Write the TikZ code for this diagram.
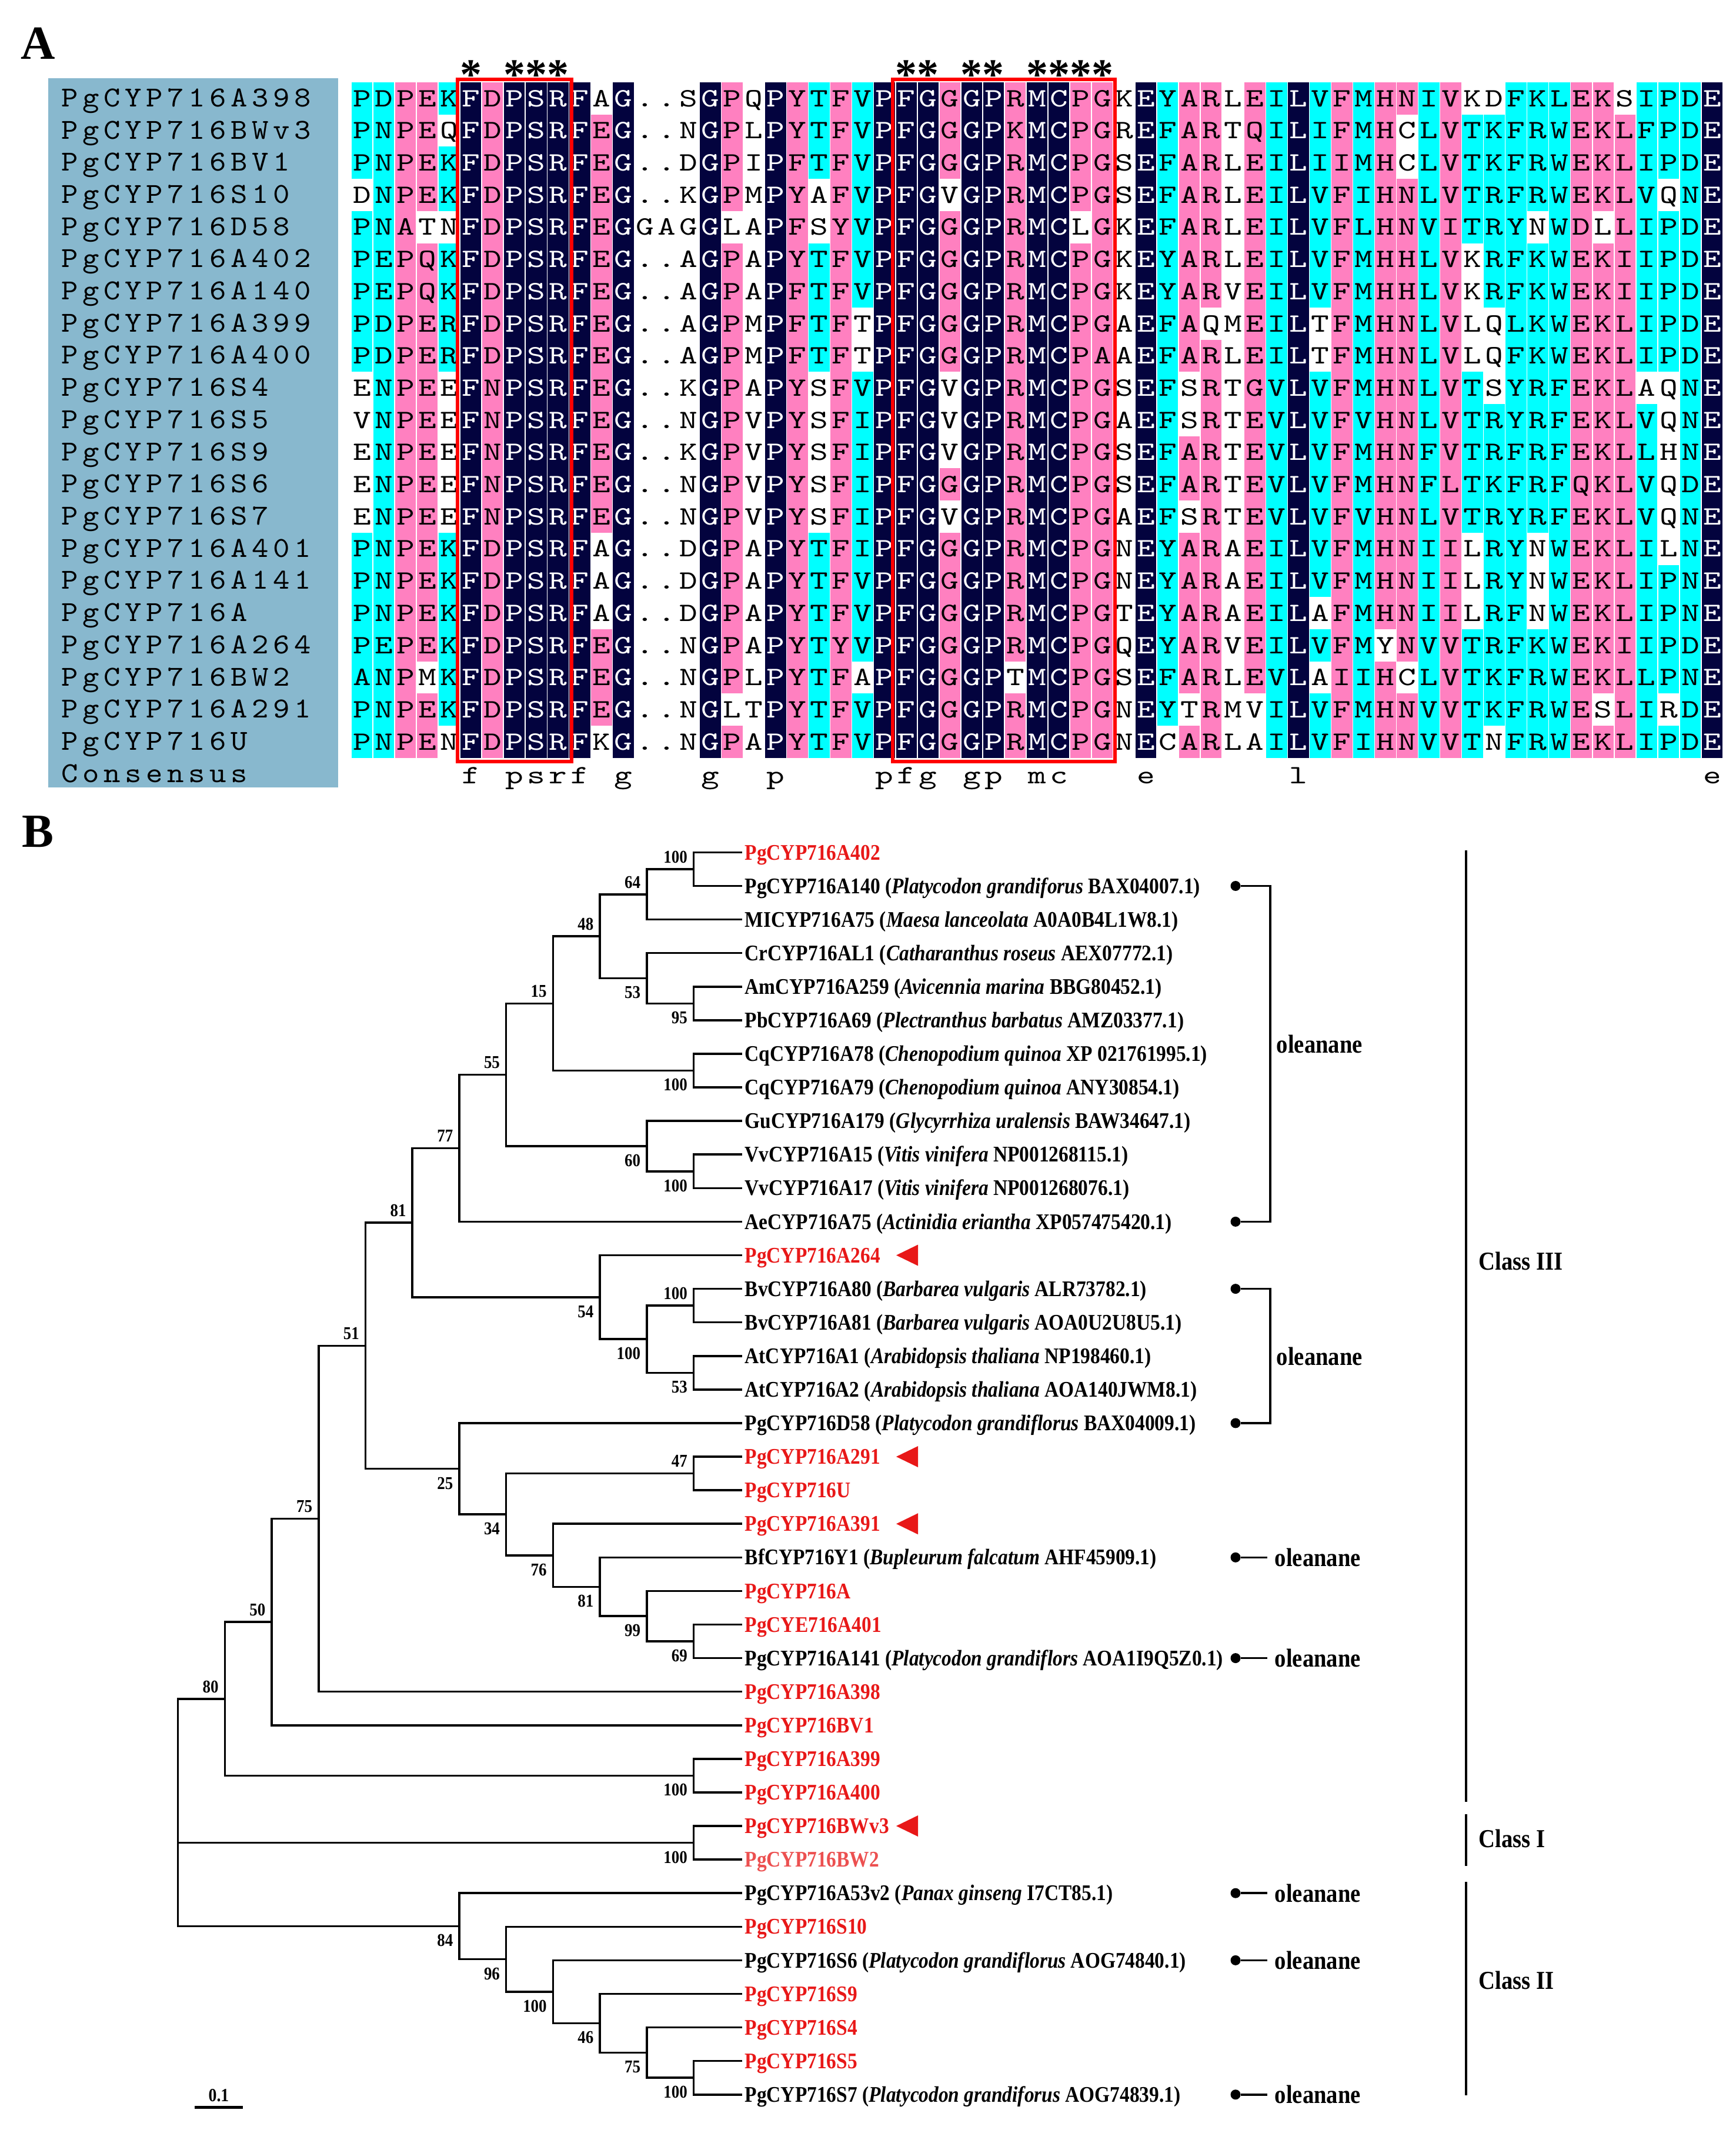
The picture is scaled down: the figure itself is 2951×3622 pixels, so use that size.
\documentclass[tikz,border=0pt]{standalone}
\usepackage{fontspec}
\usepackage{xstring}
\usepackage{tikz}
\usetikzlibrary{calc}
\setmainfont{Liberation Serif}
\newfontfamily\treefont{Liberation Serif}[FakeStretch=0.88]
\newfontfamily\alnfont{lmmono10-regular}[Extension=.otf, FakeStretch=1.3]
\newfontfamily\namefont{lmmono10-regular}[Extension=.otf, FakeStretch=1.1, LetterSpace=15.4]

\definecolor{alnnavy}{RGB}{3,3,62}
\definecolor{alnpink}{RGB}{255,128,192}
\definecolor{alncyan}{RGB}{0,255,255}
\definecolor{namebg}{RGB}{136,184,206}
\definecolor{pgred}{RGB}{232,24,24}
\definecolor{pglight}{RGB}{236,80,80}
\definecolor{boxred}{RGB}{255,0,0}

% clade: name, level, upper child, lower child, bootstrap, label style
\newcommand{\clade}[6]{%
  \path ($(#3.center)!0.5!(#4.center)$) coordinate (#1m);
  \coordinate (#1) at (#2 |- #1m);
  \draw[branch] (#3) -| (#1) |- (#4);
  \node[#6] (#1bs) at (#1) {#5};
}

\begin{document}
\begin{tikzpicture}[x=0.01cm, y=-0.01cm,
    res/.style={inner sep=0pt, minimum width=0.355cm, minimum height=0.547cm,
      text height=7.8pt, text depth=0pt, font=\alnfont\fontsize{12.8}{13}\selectfont},
    hl n/.style={fill=alnnavy, text=white},
    hl p/.style={fill=alnpink},
    hl c/.style={fill=alncyan},
    hl w/.style={},
    seqname/.style={anchor=base west, inner sep=0pt, font=\namefont\fontsize{14}{14}\selectfont},
    consensus/.style={anchor=base, inner sep=0pt, font=\alnfont\fontsize{12.8}{13}\selectfont},
    motifstar/.style={anchor=base, inner sep=0pt, font=\bfseries\fontsize{21}{21}\selectfont},
    motifbox/.style={draw=boxred, line width=1.7pt},
    panel/.style={inner sep=0pt, font=\bfseries\fontsize{23}{23}\selectfont},
    branch/.style={line width=1pt},
    leafname/.style={anchor=west, inner sep=0.04cm, text height=7.2pt, text depth=0pt,
      font=\treefont\fontsize{10.8}{12}\selectfont\bfseries},
    pgleaf/.style={leafname, text=pgred},
    pglleaf/.style={leafname, text=pglight},
    refleaf/.style={leafname},
    bs/.style={inner xsep=0.1cm, text height=5.9pt, text depth=0pt,
      font=\treefont\fontsize{8.7}{9}\selectfont\bfseries},
    bsup/.style={bs, anchor=south east, inner ysep=0.1cm},
    bsdn/.style={bs, anchor=north east, inner ysep=0.13cm},
    olndot/.style={circle, fill, inner sep=0pt, minimum size=0.17cm},
    oln/.style={anchor=west, inner sep=0.12cm, font=\treefont\fontsize{12.5}{13}\selectfont\bfseries},
    cls/.style={anchor=west, inner sep=0pt, font=\treefont\fontsize{12.5}{13}\selectfont\bfseries},
    marker/.style={fill=pgred}
  ]

  \useasboundingbox (0,0) rectangle (2951,3622);

  % ================= A: alignment =================
  \node[panel] (labA) at (65,74) {A};
  \fill[namebg] (82,133) rectangle (575,1339);

  \foreach \nm [count=\ri] in {PgCYP716A398,PgCYP716BWv3,PgCYP716BV1,PgCYP716S10,PgCYP716D58,
      PgCYP716A402,PgCYP716A140,PgCYP716A399,PgCYP716A400,PgCYP716S4,PgCYP716S5,PgCYP716S9,
      PgCYP716S6,PgCYP716S7,PgCYP716A401,PgCYP716A141,PgCYP716A,PgCYP716A264,PgCYP716BW2,
      PgCYP716A291,PgCYP716U,Consensus}
    \node[seqname] (nm\ri) at (104, {181.4+54.7*(\ri-1)}) {\nm};

  % sequences, in blocks of five
  \foreach \sq [count=\ri] in {
      {PDPEK|FDPSR|FAG..|SGPQP|YTFVP|FGGGP|RMCPG|KEYAR|LEILV|FMHNI|VKDFK|LEKSI|PDE},
      {PNPEQ|FDPSR|FEG..|NGPLP|YTFVP|FGGGP|KMCPG|REFAR|TQILI|FMHCL|VTKFR|WEKLF|PDE},
      {PNPEK|FDPSR|FEG..|DGPIP|FTFVP|FGGGP|RMCPG|SEFAR|LEILI|IMHCL|VTKFR|WEKLI|PDE},
      {DNPEK|FDPSR|FEG..|KGPMP|YAFVP|FGVGP|RMCPG|SEFAR|LEILV|FIHNL|VTRFR|WEKLV|QNE},
      {PNATN|FDPSR|FEGGA|GGLAP|FSYVP|FGGGP|RMCLG|KEFAR|LEILV|FLHNV|ITRYN|WDLLI|PDE},
      {PEPQK|FDPSR|FEG..|AGPAP|YTFVP|FGGGP|RMCPG|KEYAR|LEILV|FMHHL|VKRFK|WEKII|PDE},
      {PEPQK|FDPSR|FEG..|AGPAP|FTFVP|FGGGP|RMCPG|KEYAR|VEILV|FMHHL|VKRFK|WEKII|PDE},
      {PDPER|FDPSR|FEG..|AGPMP|FTFTP|FGGGP|RMCPG|AEFAQ|MEILT|FMHNL|VLQLK|WEKLI|PDE},
      {PDPER|FDPSR|FEG..|AGPMP|FTFTP|FGGGP|RMCPA|AEFAR|LEILT|FMHNL|VLQFK|WEKLI|PDE},
      {ENPEE|FNPSR|FEG..|KGPAP|YSFVP|FGVGP|RMCPG|SEFSR|TGVLV|FMHNL|VTSYR|FEKLA|QNE},
      {VNPEE|FNPSR|FEG..|NGPVP|YSFIP|FGVGP|RMCPG|AEFSR|TEVLV|FVHNL|VTRYR|FEKLV|QNE},
      {ENPEE|FNPSR|FEG..|KGPVP|YSFIP|FGVGP|RMCPG|SEFAR|TEVLV|FMHNF|VTRFR|FEKLL|HNE},
      {ENPEE|FNPSR|FEG..|NGPVP|YSFIP|FGGGP|RMCPG|SEFAR|TEVLV|FMHNF|LTKFR|FQKLV|QDE},
      {ENPEE|FNPSR|FEG..|NGPVP|YSFIP|FGVGP|RMCPG|AEFSR|TEVLV|FVHNL|VTRYR|FEKLV|QNE},
      {PNPEK|FDPSR|FAG..|DGPAP|YTFIP|FGGGP|RMCPG|NEYAR|AEILV|FMHNI|ILRYN|WEKLI|LNE},
      {PNPEK|FDPSR|FAG..|DGPAP|YTFVP|FGGGP|RMCPG|NEYAR|AEILV|FMHNI|ILRYN|WEKLI|PNE},
      {PNPEK|FDPSR|FAG..|DGPAP|YTFVP|FGGGP|RMCPG|TEYAR|AEILA|FMHNI|ILRFN|WEKLI|PNE},
      {PEPEK|FDPSR|FEG..|NGPAP|YTYVP|FGGGP|RMCPG|QEYAR|VEILV|FMYNV|VTRFK|WEKII|PDE},
      {ANPMK|FDPSR|FEG..|NGPLP|YTFAP|FGGGP|TMCPG|SEFAR|LEVLA|IIHCL|VTKFR|WEKLL|PNE},
      {PNPEK|FDPSR|FEG..|NGLTP|YTFVP|FGGGP|RMCPG|NEYTR|MVILV|FMHNV|VTKFR|WESLI|RDE},
      {PNPEN|FDPSR|FKG..|NGPAP|YTFVP|FGGGP|RMCPG|NECAR|LAILV|FIHNV|VTNFR|WEKLI|PDE}}{
    \StrDel{\sq}{|}[\sqx]
    \expandafter\xdef\csname seq\ri\endcsname{\sqx}
  }

  % shading per column (n navy, p pink, c cyan, w none), rows in blocks of five
  \foreach \cs [count=\ci] in {
      cccwc|ccccw|wwwwc|ccccc|c, c, p, ppppw|ppppp|ppppp|pppwp|p, cwccw|ccccw|wwwwc|ccccc|w,
      n, p, n, n, n, n, wpppp|ppppp|ppppw|wwppp|w, n, w, w, w, n,
      ppppw|ppppp|ppppp|ppppw|p, w, n, p, cccww|ccccw|wwwwc|ccccc|c, p,
      ccccc|ccwwc|ccccc|cccwc|c, n, n, n, pppwp|ppppw|wwpwp|ppppp|p, n, n,
      ppppp|ppppp|ppppp|pppwp|p, n, n, ppppw|ppppp|ppppp|ppppp|p, p, w, n,
      ccccc|ccccc|ccccc|ccccc|w, ppppp|ppppw|wppwp|ppppw|p, ppppp|ppwpp|ppppp|ppppp|p, w,
      ppppp|ppppp|ppppp|ppppw|w, c, n, ccccc|ccwwc|ccccc|cwcwc|c, p, c,
      ppppp|ppppp|ppppp|ppwpp|p, pwwpp|ppppp|ppppp|pppwp|p, c, p,
      wcccc|wwwwc|ccccw|wwccc|c, wcccc|ccwww|ccccc|ccccc|w, c,
      ccccw|ccccc|ccccw|wwccc|c, c, p, ppppw|ppppp|ppppp|ppppw|p,
      wpppp|ppppp|ppppp|ppppp|p, ccccc|ccccw|ccccc|ccccc|c, cccwc|ccccw|wwwww|ccccw|c, c, n}{
    \StrDel{\cs}{|}[\csx]
    \StrLen{\csx}[\cslen]
    \foreach \ri in {1,...,21}{
      \ifnum\cslen=1 \let\hlcode\csx \else \StrChar{\csx}{\ri}[\hlcode]\fi
      \StrChar{\csname seq\ri\endcsname}{\ci}[\resch]
      \node[res, hl \hlcode] (r\ri c\ci) at ({597+37.03*(\ci-0.5)}, {167.4+54.7*(\ri-1)}) {\resch};
    }
  }

  % motif boxes and stars
  \draw[motifbox] ($(r1c6.north west)+(-4,-4)$) rectangle ($(r21c10.south east)+(5,6)$);
  \draw[motifbox] ($(r1c26.north west)+(-5,-4)$) rectangle ($(r21c35.south east)+(3,6)$);
  \foreach \ci in {6,8,9,10,26,27,29,30,32,33,34,35}
    \node[motifstar] (st\ci) at ($(r1c\ci.north)+(0,12)$) {*};

  % consensus line
  \foreach \ci/\ch in {6/f,8/p,9/s,10/r,11/f,13/g,17/g,20/p,25/p,26/f,27/g,29/g,30/p,32/m,33/c,37/e,44/l,63/e}
    \node[consensus] (cs\ci) at ($(r21c\ci.south)+(0,43)$) {\ch};

  % ================= B: tree =================
  \node[panel] (labB) at (64,1414) {B};

  \foreach \k in {0,...,12}
    \coordinate (L\k) at ({302.6+79.72*\k},0);

  \foreach \id/\txt/\st [count=\i] in {
      A402/PgCYP716A402/pgleaf,
      A140/{PgCYP716A140 (\textit{Platycodon grandiforus} BAX04007.1)}/refleaf,
      Mi75/{MICYP716A75 (\textit{Maesa lanceolata} A0A0B4L1W8.1)}/refleaf,
      CrAL1/{CrCYP716AL1 (\textit{Catharanthus roseus} AEX07772.1)}/refleaf,
      Am259/{AmCYP716A259 (\textit{Avicennia marina} BBG80452.1)}/refleaf,
      Pb69/{PbCYP716A69 (\textit{Plectranthus barbatus} AMZ03377.1)}/refleaf,
      Cq78/{CqCYP716A78 (\textit{Chenopodium quinoa} XP 021761995.1)}/refleaf,
      Cq79/{CqCYP716A79 (\textit{Chenopodium quinoa} ANY30854.1)}/refleaf,
      Gu179/{GuCYP716A179 (\textit{Glycyrrhiza uralensis} BAW34647.1)}/refleaf,
      Vv15/{VvCYP716A15 (\textit{Vitis vinifera} NP001268115.1)}/refleaf,
      Vv17/{VvCYP716A17 (\textit{Vitis vinifera} NP001268076.1)}/refleaf,
      Ae75/{AeCYP716A75 (\textit{Actinidia eriantha} XP057475420.1)}/refleaf,
      A264/PgCYP716A264/pgleaf,
      Bv80/{BvCYP716A80 (\textit{Barbarea vulgaris} ALR73782.1)}/refleaf,
      Bv81/{BvCYP716A81 (\textit{Barbarea vulgaris} AOA0U2U8U5.1)}/refleaf,
      At1/{AtCYP716A1 (\textit{Arabidopsis thaliana} NP198460.1)}/refleaf,
      At2/{AtCYP716A2 (\textit{Arabidopsis thaliana} AOA140JWM8.1)}/refleaf,
      D58/{PgCYP716D58 (\textit{Platycodon grandiflorus} BAX04009.1)}/refleaf,
      A291/PgCYP716A291/pgleaf,
      U/PgCYP716U/pgleaf,
      A391/PgCYP716A391/pgleaf,
      BfY1/{BfCYP716Y1 (\textit{Bupleurum falcatum} AHF45909.1)}/refleaf,
      PgA/PgCYP716A/pgleaf,
      A401/PgCYE716A401/pgleaf,
      A141/{PgCYP716A141 (\textit{Platycodon grandiflors} AOA1I9Q5Z0.1)}/refleaf,
      A398/PgCYP716A398/pgleaf,
      BV1/PgCYP716BV1/pgleaf,
      A399/PgCYP716A399/pgleaf,
      A400/PgCYP716A400/pgleaf,
      BWv3/PgCYP716BWv3/pgleaf,
      BW2/PgCYP716BW2/pglleaf,
      A53v2/{PgCYP716A53v2 (\textit{Panax ginseng} I7CT85.1)}/refleaf,
      S10/PgCYP716S10/pgleaf,
      S6/{PgCYP716S6 (\textit{Platycodon grandiflorus} AOG74840.1)}/refleaf,
      S9/PgCYP716S9/pgleaf,
      S4/PgCYP716S4/pgleaf,
      S5/PgCYP716S5/pgleaf,
      S7/{PgCYP716S7 (\textit{Platycodon grandiforus} AOG74839.1)}/refleaf}
    \node[\st] (\id) at (1262, {1449.4+57.09*(\i-1)}) {\txt};

  % clades
  \clade{nA402}{L11}{A402}{A140}{100}{bsup}
  \clade{n64}{L10}{nA402}{Mi75}{64}{bsup}
  \clade{n95}{L11}{Am259}{Pb69}{95}{bsdn}
  \clade{n53a}{L10}{CrAL1}{n95}{53}{bsdn}
  \clade{n48}{L9}{n64}{n53a}{48}{bsup}
  \clade{nCq}{L11}{Cq78}{Cq79}{100}{bsdn}
  \clade{n15}{L8}{n48}{nCq}{15}{bsup}
  \clade{nVv}{L11}{Vv15}{Vv17}{100}{bsdn}
  \clade{n60}{L10}{Gu179}{nVv}{60}{bsdn}
  \clade{n55}{L7}{n15}{n60}{55}{bsup}
  \clade{n77}{L6}{n55}{Ae75}{77}{bsup}
  \clade{nBv}{L11}{Bv80}{Bv81}{100}{bsup}
  \clade{nAt}{L11}{At1}{At2}{53}{bsdn}
  \clade{nBvAt}{L10}{nBv}{nAt}{100}{bsdn}
  \clade{n54}{L9}{A264}{nBvAt}{54}{bsdn}
  \clade{n81a}{L5}{n77}{n54}{81}{bsup}
  \clade{n47}{L11}{A291}{U}{47}{bsup}
  \clade{n69}{L11}{A401}{A141}{69}{bsdn}
  \clade{n99}{L10}{PgA}{n69}{99}{bsdn}
  \clade{n81b}{L9}{BfY1}{n99}{81}{bsdn}
  \clade{n76}{L8}{A391}{n81b}{76}{bsdn}
  \clade{n34}{L7}{n47}{n76}{34}{bsdn}
  \clade{n25}{L6}{D58}{n34}{25}{bsdn}
  \clade{n51}{L4}{n81a}{n25}{51}{bsup}
  \clade{n75a}{L3}{n51}{A398}{75}{bsup}
  \clade{n50}{L2}{n75a}{BV1}{50}{bsup}
  \clade{nA399}{L11}{A399}{A400}{100}{bsdn}
  \clade{n80}{L1}{n50}{nA399}{80}{bsup}
  \clade{nBW}{L11}{BWv3}{BW2}{100}{bsdn}
  \clade{nS5}{L11}{S5}{S7}{100}{bsdn}
  \clade{n75b}{L10}{S4}{nS5}{75}{bsdn}
  \clade{n46}{L9}{S9}{n75b}{46}{bsdn}
  \clade{n100s}{L8}{S6}{n46}{100}{bsdn}
  \clade{n96}{L7}{S10}{n100s}{96}{bsdn}
  \clade{n84}{L6}{A53v2}{n96}{84}{bsdn}

  % root
  \path ($(n80)!0.5!(n84)$) coordinate (rootm);
  \coordinate (root) at (L0 |- rootm);
  \draw[branch] (n80) -| (root) |- (n84);
  \draw[branch] (nBW) -- (nBW -| root);

  % new genes marked with a triangle
  \coordinate (mkx) at (1524,0);
  \foreach \id in {A264,A291,A391,BWv3}
    \fill[marker] (mkx |- \id) -- ++(37,-18) -- ++(0,36) -- cycle;

  % oleanane annotations
  \coordinate (dotx) at (2101,0);
  \coordinate (olnx) at (2155,0);
  \foreach \id in {A140,Ae75,Bv80,D58,BfY1,A141,A53v2,S6,S7}
    \node[olndot] (d\id) at (dotx |- \id) {};

  \draw[branch] (dA140) -- ++(59,0) |- (dAe75);
  \node[oln] (olnI) at (2158,1775) {oleanane};
  \draw[branch] (dBv80) -- ++(59,0) |- (dD58);
  \node[oln] (olnII) at (2158,2306) {oleanane};

  \foreach \id in {BfY1,A141,A53v2,S6,S7}{
    \node[oln] (o\id) at (olnx |- \id) {oleanane};
    \draw[branch] (d\id) -- (o\id);
  }

  % classes
  \coordinate (c3a) at (2493,1446);
  \coordinate (c3b) at (2493,3064);
  \coordinate (c1a) at (2493,3085);
  \coordinate (c1b) at (2493,3173);
  \coordinate (c2a) at (2493,3200);
  \coordinate (c2b) at (2493,3563);
  \draw[branch] (c3a) -- (c3b);
  \draw[branch] (c1a) -- (c1b);
  \draw[branch] (c2a) -- (c2b);
  \node[cls] (cls3) at (2514,2144) {Class III};
  \node[cls] (cls1) at (2514,3126) {Class I};
  \node[cls] (cls2) at (2514,3367) {Class II};

  % scale bar
  \coordinate (sba) at (331,3583);
  \coordinate (sbb) at (413,3583);
  \draw[line width=1.4pt] (sba) -- (sbb)
    node[midway, above=0.07cm, inner sep=0pt, font=\treefont\fontsize{9}{9}\selectfont\bfseries] (sbt) {0.1};

\end{tikzpicture}
\end{document}
